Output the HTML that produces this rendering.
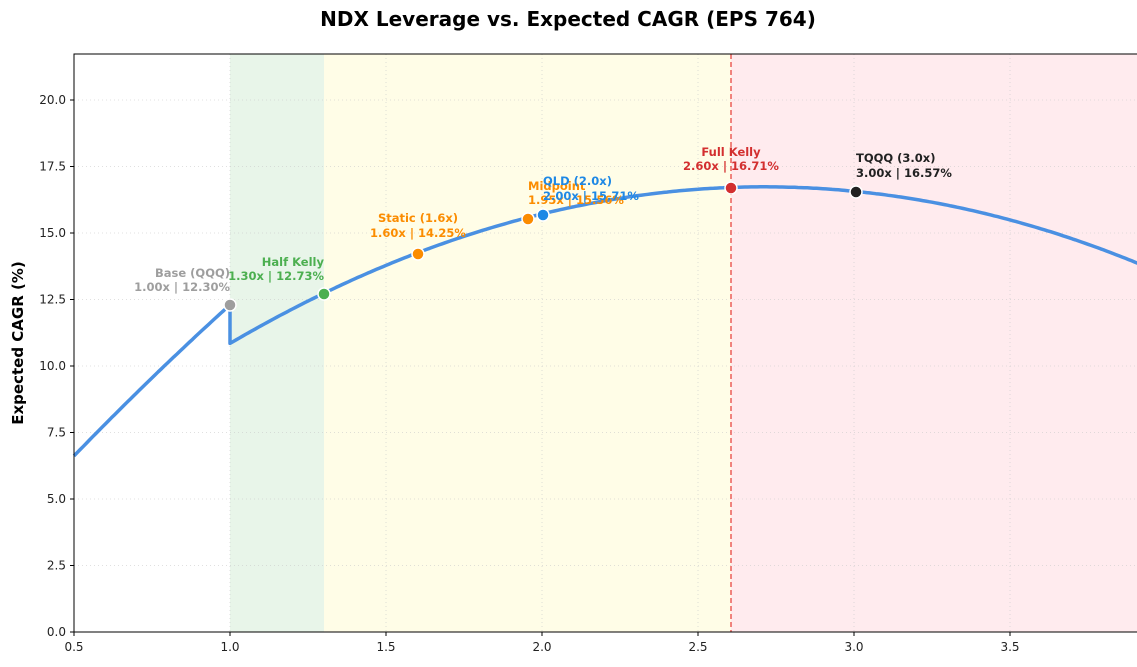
<!DOCTYPE html>
<html><head><meta charset="utf-8"><style>
body{margin:0;background:#fff}
text{font-family:"DejaVu Sans","Liberation Sans",sans-serif}
</style></head><body>
<svg id="s" width="1137" height="662" xmlns="http://www.w3.org/2000/svg">
<rect width="1137" height="662" fill="#fff"/>
<rect x="230" y="54" width="94" height="578" fill="#e8f5e9"/>
<rect x="324" y="54" width="407" height="578" fill="#fffde7"/>
<rect x="731" y="54" width="406" height="578" fill="#ffebee"/>
<g id="grid" stroke="#ccc" stroke-width="0.8" stroke-dasharray="1,3" opacity="0.8"></g>
<line x1="731" y1="54" x2="731" y2="632" stroke="#e53935" stroke-width="1.2" stroke-dasharray="5,3"/>
<path id="curve" fill="none" stroke="#4a90e2" stroke-width="3.5" stroke-linejoin="round"/>
<g stroke="#fff" stroke-width="1.5">
<circle cx="230" cy="305" r="6" fill="#9e9e9e"/>
<circle cx="324" cy="294" r="6" fill="#4caf50"/>
<circle cx="418" cy="254" r="6" fill="#fb8c00"/>
<circle cx="528" cy="219" r="6" fill="#fb8c00"/>
<circle cx="543" cy="215" r="6" fill="#1e88e5"/>
<circle cx="731" cy="188" r="6" fill="#d32f2f"/>
<circle cx="856" cy="192" r="6" fill="#212121"/>
</g>
<g font-size="11.5" font-weight="bold">
<text x="230" y="277" text-anchor="end" fill="#9e9e9e">Base (QQQ)</text>
<text x="230" y="291" text-anchor="end" fill="#9e9e9e">1.00x | 12.30%</text>
<text x="324" y="266" text-anchor="end" fill="#4caf50">Half Kelly</text>
<text x="324" y="280" text-anchor="end" fill="#4caf50">1.30x | 12.73%</text>
<text x="418" y="222" text-anchor="middle" fill="#fb8c00">Static (1.6x)</text>
<text x="418" y="237" text-anchor="middle" fill="#fb8c00">1.60x | 14.25%</text>
<text x="528" y="190" fill="#fb8c00">Midpoint</text>
<text x="528" y="204" fill="#fb8c00">1.95x | 15.56%</text>
<text x="543" y="185" fill="#1e88e5">QLD (2.0x)</text>
<text x="543" y="200" fill="#1e88e5">2.00x | 15.71%</text>
<text x="731" y="156" text-anchor="middle" fill="#d32f2f">Full Kelly</text>
<text x="731" y="170" text-anchor="middle" fill="#d32f2f">2.60x | 16.71%</text>
<text x="856" y="162" fill="#212121">TQQQ (3.0x)</text>
<text x="856" y="177" fill="#212121">3.00x | 16.57%</text>
</g>
<rect x="74" y="54" width="1070" height="578" fill="none" stroke="#000" stroke-width="1"/>
<g id="ticks" font-size="12" fill="#222"></g>
<text x="568" y="26" text-anchor="middle" font-size="20" font-weight="bold">NDX Leverage vs. Expected CAGR (EPS 764)</text>
<text transform="translate(23,343) rotate(-90)" text-anchor="middle" font-size="15" font-weight="bold">Expected CAGR (%)</text>
</svg>
<script>
const X=L=>74+(L-0.5)*312, Y=v=>632-v*26.6;
const c=2.0068;
let d="";
for(let L=0.5;L<=1.0001;L+=0.01){const v=6.62+13.61*(L-0.5)-1.5*(L*L-0.25);d+=(d?"L":"M")+X(L).toFixed(1)+","+Y(v).toFixed(1);}
d+="L"+X(1.0)+","+Y(12.3);
for(let L=1.0;L<=3.91;L+=0.01){const v=1.967+10.888*L-c*L*L;d+="L"+X(L).toFixed(1)+","+Y(v).toFixed(1);}
document.getElementById("curve").setAttribute("d",d);
const g=document.getElementById("grid"),t=document.getElementById("ticks"),ns="http://www.w3.org/2000/svg";
function el(p,n,a,txt){const e=document.createElementNS(ns,n);for(const k in a)e.setAttribute(k,a[k]);if(txt!==undefined)e.textContent=txt;p.appendChild(e);}
for(let L=0.5;L<=3.51;L+=0.5){const x=X(L);el(g,"line",{x1:x,y1:54,x2:x,y2:632});el(t,"line",{x1:x,y1:632,x2:x,y2:636,stroke:"#000"});el(t,"text",{x:x,y:651,"text-anchor":"middle"},L.toFixed(1));}
for(let v=0;v<=20.01;v+=2.5){const y=Y(v);el(g,"line",{x1:74,y1:y,x2:1137,y2:y});el(t,"line",{x1:70,y1:y,x2:74,y2:y,stroke:"#000"});el(t,"text",{x:66,y:y+4,"text-anchor":"end"},v.toFixed(1));}
</script>
</body></html>
